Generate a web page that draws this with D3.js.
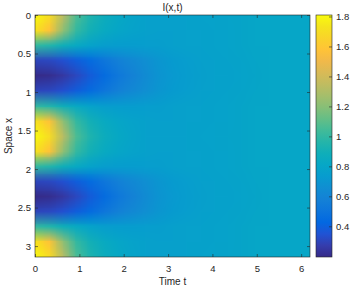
<!DOCTYPE html>
<html>
<head>
<meta charset="utf-8">
<script src="https://cdn.jsdelivr.net/npm/d3@7"></script>
<style>
  body { margin: 0; background: #fff; }
  text { font-family: "Liberation Sans", Arial, sans-serif; fill: #262626; }
</style>
</head>
<body>
<div class="box"></div>
<script>
// DATA

// sample times (columns) and space points (rows) of the grid
const timeSteps = [0, 0.31, 0.62, 0.93, 1.24, 1.55, 1.86, 2.17, 2.48, 2.79, 3.1,
                   3.41, 3.72, 4.03, 4.34, 4.65, 4.96, 5.27, 5.58, 5.89, 6.2];
const spacePoints = [0, 0.196, 0.393, 0.589, 0.785, 0.982, 1.178, 1.374, 1.571,
                     1.767, 1.963, 2.160, 2.356, 2.553, 2.749, 2.945, 3.142];

// I(x,t), one row per band of x
const peakRow       = [1.80, 1.70, 1.33, 1.06, 0.94, 0.87, 0.82, 0.79, 0.77, 0.765, 0.765, 0.77, 0.775, 0.78, 0.785, 0.79, 0.80, 0.80, 0.80, 0.80, 0.80];
const nearPeakRow   = [1.72, 1.58, 1.22, 1.00, 0.90, 0.84, 0.80, 0.78, 0.765, 0.76, 0.76, 0.765, 0.77, 0.775, 0.78, 0.79, 0.80, 0.80, 0.80, 0.80, 0.80];
const midRow        = [1.00, 0.96, 0.89, 0.83, 0.78, 0.75, 0.74, 0.74, 0.745, 0.75, 0.76, 0.765, 0.77, 0.775, 0.78, 0.79, 0.80, 0.80, 0.80, 0.80, 0.80];
const nearTroughRow = [0.30, 0.31, 0.34, 0.39, 0.45, 0.51, 0.57, 0.62, 0.66, 0.70, 0.73, 0.745, 0.76, 0.765, 0.775, 0.785, 0.795, 0.80, 0.80, 0.80, 0.80];
const troughRow     = [0.20, 0.21, 0.25, 0.31, 0.38, 0.45, 0.52, 0.58, 0.64, 0.69, 0.72, 0.74, 0.755, 0.765, 0.77, 0.78, 0.79, 0.80, 0.80, 0.80, 0.80];

const intensity = [peakRow, nearPeakRow, midRow, nearTroughRow, troughRow,
                   nearTroughRow, midRow, nearPeakRow, peakRow,
                   nearPeakRow, midRow, nearTroughRow, troughRow,
                   nearTroughRow, midRow, nearPeakRow, peakRow];

const timeTicks = [0, 1, 2, 3, 4, 5, 6];
const spaceTicks = [0, 0.5, 1, 1.5, 2, 2.5, 3];
const barTicks = [0.4, 0.6, 0.8, 1, 1.2, 1.4, 1.6, 1.8];

// parula colormap (every 3rd entry of the 64 colour map)
const parula = ['#352a87', '#353dad', '#2053d4', '#0268e1', '#0d75dc', '#1481d6',
                '#108ed2', '#079ccf', '#06a7c6', '#0faeb9', '#25b5a9', '#42bb98',
                '#65be86', '#87bf77', '#a5be6b', '#c0bc60', '#d9ba56', '#f1b94a',
                '#ffc337', '#f9d32a', '#f5e41d', '#f9fb0e'];
const cmin = 0.195, cmax = 1.81;

// SETUP
const svg = d3.select('.box')
              .append('svg')
              .attr('width', 354)
              .attr('height', 290);

const margin = {top: 15, right: 44, bottom: 33, left: 35};
const graphWidth = 354 - margin.left - margin.right;   // 275
const graphHeight = 290 - margin.top - margin.bottom;  // 242

const graph = svg.append('g')
                 .attr('transform', `translate(${margin.left}, ${margin.top})`);

const x = d3.scaleLinear().domain([0, 6.2]).range([0, graphWidth]);
const y = d3.scaleLinear().domain([0, Math.PI]).range([0, graphHeight]);

const color = d3.scaleLinear()
                .domain(parula.map((c, i) => cmin + (cmax - cmin) * i / (parula.length - 1)))
                .range(parula)
                .clamp(true);

// HEATMAP: one pixel per grid cell, scaled up smoothly (like shading interp)
const canvas = document.createElement('canvas');
canvas.width = timeSteps.length;
canvas.height = spacePoints.length;
const ctx = canvas.getContext('2d');
const img = ctx.createImageData(canvas.width, canvas.height);
intensity.forEach((row, k) => {
  row.forEach((v, j) => {
    const c = d3.rgb(color(v));
    const p = (k * canvas.width + j) * 4;
    img.data[p] = c.r; img.data[p + 1] = c.g; img.data[p + 2] = c.b; img.data[p + 3] = 255;
  });
});
ctx.putImageData(img, 0, 0);

const stepX = x(timeSteps[1]) - x(timeSteps[0]);
const stepY = y(spacePoints[1]) - y(spacePoints[0]);

svg.append('clipPath').attr('id', 'plotclip')
   .append('rect').attr('width', graphWidth).attr('height', graphHeight);

graph.append('g')
     .attr('clip-path', 'url(#plotclip)')
     .append('image')
     .attr('href', canvas.toDataURL())
     .attr('x', x(timeSteps[0]) - stepX / 2)
     .attr('y', y(spacePoints[0]) - stepY / 2)
     .attr('width', stepX * timeSteps.length)
     .attr('height', stepY * spacePoints.length)
     .attr('preserveAspectRatio', 'none');

// AXES (ticks point inward, box on)
const axisColor = '#262626';
const plain = d => String(d);
const styleAxis = g => {
  g.select('.domain').remove();
  g.selectAll('line').attr('stroke', axisColor).attr('stroke-width', 0.6);
  g.selectAll('text').style('font-size', '9.5px').attr('fill', axisColor);
};

graph.append('g')
     .attr('transform', `translate(0, ${graphHeight})`)
     .call(d3.axisBottom(x).tickValues(timeTicks).tickSize(-3).tickPadding(8).tickFormat(plain))
     .call(styleAxis);
graph.append('g')
     .call(d3.axisTop(x).tickValues(timeTicks).tickSize(-3).tickFormat(''))
     .call(styleAxis);
graph.append('g')
     .call(d3.axisLeft(y).tickValues(spaceTicks).tickSize(-3).tickPadding(4).tickFormat(plain))
     .call(styleAxis);
graph.append('g')
     .attr('transform', `translate(${graphWidth}, 0)`)
     .call(d3.axisRight(y).tickValues(spaceTicks).tickSize(-3).tickFormat(''))
     .call(styleAxis);

graph.append('rect')
     .attr('width', graphWidth)
     .attr('height', graphHeight)
     .attr('fill', 'none')
     .attr('stroke', axisColor)
     .attr('stroke-width', 0.6);

// COLORBAR
const barX = 316, barW = 16;
const cb = d3.scaleLinear().domain([cmin, cmax]).range([margin.top + graphHeight, margin.top]);

const grad = svg.append('defs').append('linearGradient')
                .attr('id', 'parula')
                .attr('x1', 0).attr('y1', 1).attr('x2', 0).attr('y2', 0);
grad.selectAll('stop')
    .data(parula)
    .enter()
    .append('stop')
    .attr('offset', (d, i) => i / (parula.length - 1))
    .attr('stop-color', d => d);

svg.append('rect')
   .attr('x', barX)
   .attr('y', margin.top)
   .attr('width', barW)
   .attr('height', graphHeight)
   .attr('fill', 'url(#parula)')
   .attr('stroke', axisColor)
   .attr('stroke-width', 0.6);

svg.append('g')
   .attr('transform', `translate(${barX + barW}, 0)`)
   .call(d3.axisRight(cb).tickValues(barTicks).tickSize(-3).tickPadding(4).tickFormat(plain))
   .call(styleAxis);

// LABELS
svg.append('text')
   .text('I(x,t)')
   .attr('x', margin.left + graphWidth / 2)
   .attr('y', 11)
   .attr('text-anchor', 'middle')
   .style('font-size', '10px');

svg.append('text')
   .text('Time t')
   .attr('x', margin.left + graphWidth / 2)
   .attr('y', 285)
   .attr('text-anchor', 'middle')
   .style('font-size', '10px');

svg.append('text')
   .text('Space x')
   .attr('transform', `translate(11.5, ${margin.top + graphHeight / 2}) rotate(-90)`)
   .attr('text-anchor', 'middle')
   .style('font-size', '10px');
</script>
</body>
</html>
